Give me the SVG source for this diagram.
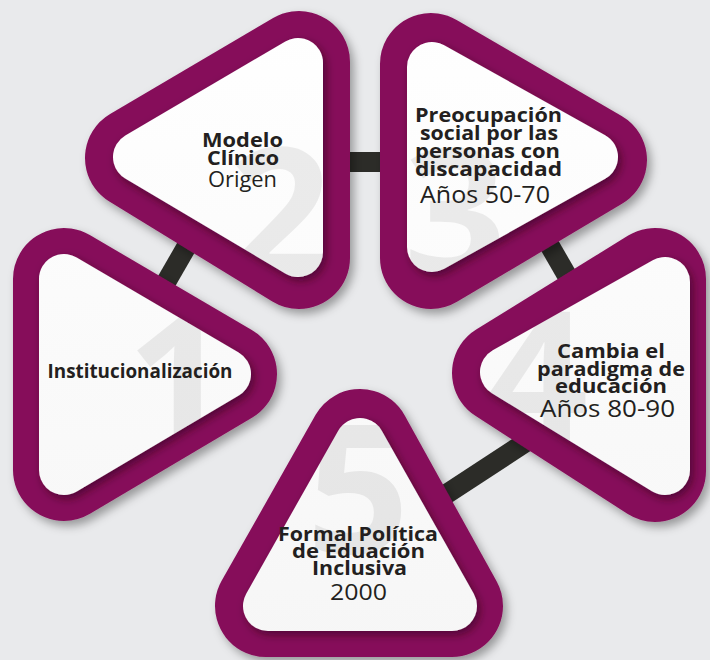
<svg xmlns="http://www.w3.org/2000/svg" xmlns:xlink="http://www.w3.org/1999/xlink" width="710" height="660" viewBox="0 0 710 660">
  <style>
    .outer { fill: #86105a; stroke: #86105a; stroke-width: 102; stroke-linejoin: round; }
    .inner { fill: url(#wg); stroke: url(#wg); stroke-width: 50; stroke-linejoin: round; }
    .mk { fill: #fff; stroke: #fff; stroke-width: 50; stroke-linejoin: round; }
    .num { font-family: "Open Sans", "DejaVu Sans", sans-serif; font-weight: 700; font-size: 180px; fill: #000; fill-opacity: 0.07; text-anchor: middle; }
    .b { font-family: "Open Sans", "Liberation Sans", sans-serif; font-weight: 700; font-size: 19.5px; fill: #231f20; text-anchor: middle; }
    .r { font-family: "Open Sans", "Liberation Sans", sans-serif; font-weight: 400; font-size: 24px; fill: #231f20; text-anchor: middle; }
    .bar { stroke: #2c2c28; stroke-width: 20; fill: none; }
  </style>
  <defs>
    <linearGradient id="wg" gradientUnits="userSpaceOnUse" x1="0" y1="0" x2="0" y2="660">
      <stop offset="0" stop-color="#ffffff"/>
      <stop offset="1" stop-color="#f6f6f6"/>
    </linearGradient>
    <filter id="so" filterUnits="userSpaceOnUse" x="0" y="0" width="710" height="660">
      <feDropShadow dx="4" dy="5" stdDeviation="5" flood-color="#000" flood-opacity="0.35"/>
    </filter>
    <filter id="si" filterUnits="userSpaceOnUse" x="0" y="0" width="710" height="660">
      <feDropShadow dx="3" dy="4" stdDeviation="4" flood-color="#2a0018" flood-opacity="0.55"/>
    </filter>
    <!-- outer cores -->
    <polygon id="o1" points="64,279 64,470 226,374"/>
    <polygon id="o2" points="299,62 299,258 136,158"/>
    <polygon id="o3" points="431,64 431,258 596,160"/>
    <polygon id="o4" points="655,279 655,471 503,373"/>
    <polygon id="o5" points="360,440 266,606 452,606"/>
    <!-- inner cores -->
    <polygon id="i1" points="64,279 64,470 226,374"/>
    <polygon id="i2" points="298,63 298,252 138,157"/>
    <polygon id="i3" points="432,67 432,247 593,157"/>
    <polygon id="i4" points="665,282 665,470 505,372"/>
    <polygon id="i5" points="360,443 268,606 452,606"/>
    <mask id="m1" maskUnits="userSpaceOnUse" x="0" y="0" width="710" height="660"><use xlink:href="#i1" class="mk"/></mask>
    <mask id="m2" maskUnits="userSpaceOnUse" x="0" y="0" width="710" height="660"><use xlink:href="#i2" class="mk"/></mask>
    <mask id="m3" maskUnits="userSpaceOnUse" x="0" y="0" width="710" height="660"><use xlink:href="#i3" class="mk"/></mask>
    <mask id="m4" maskUnits="userSpaceOnUse" x="0" y="0" width="710" height="660"><use xlink:href="#i4" class="mk"/></mask>
    <mask id="m5" maskUnits="userSpaceOnUse" x="0" y="0" width="710" height="660"><use xlink:href="#i5" class="mk"/></mask>
  </defs>

  <rect width="710" height="660" fill="#e9eaec"/>

  <g id="connectors">
    <line class="bar" x1="120" y1="362" x2="240" y2="154"/>
    <line class="bar" x1="250" y1="162" x2="480" y2="162"/>
    <line class="bar" x1="498" y1="156" x2="618" y2="364"/>
    <line class="bar" x1="361" y1="550" x2="613" y2="385"/>
  </g>

  <g id="node1">
    <use xlink:href="#o1" class="outer" filter="url(#so)"/>
    <use xlink:href="#i1" class="inner" filter="url(#si)"/>
    <text class="num" x="178" y="446" mask="url(#m1)">1</text>
    <text class="b" x="140" y="378" textLength="185" lengthAdjust="spacingAndGlyphs">Institucionalización</text>
  </g>

  <g id="node2">
    <use xlink:href="#o2" class="outer" filter="url(#so)"/>
    <use xlink:href="#i2" class="inner" filter="url(#si)"/>
    <text class="num" x="280" y="277" mask="url(#m2)">2</text>
    <text class="b" x="242.5" y="147" textLength="81" lengthAdjust="spacingAndGlyphs">Modelo</text>
    <text class="b" x="243" y="165" textLength="72" lengthAdjust="spacingAndGlyphs">Clínico</text>
    <text class="r" x="242.5" y="187" style="font-size:22px" textLength="69" lengthAdjust="spacingAndGlyphs">Origen</text>
  </g>

  <g id="node3">
    <use xlink:href="#o3" class="outer" filter="url(#so)"/>
    <use xlink:href="#i3" class="inner" filter="url(#si)"/>
    <text class="num" x="455" y="277" mask="url(#m3)">3</text>
    <text class="b" x="488.5" y="122" textLength="147" lengthAdjust="spacingAndGlyphs">Preocupación</text>
    <text class="b" x="489" y="140" textLength="138" lengthAdjust="spacingAndGlyphs">social por las</text>
    <text class="b" x="487.5" y="158" textLength="145" lengthAdjust="spacingAndGlyphs">personas con</text>
    <text class="b" x="488.5" y="176" textLength="147" lengthAdjust="spacingAndGlyphs">discapacidad</text>
    <text class="r" x="485" y="203" textLength="130" lengthAdjust="spacingAndGlyphs">Años 50-70</text>
  </g>

  <g id="node4">
    <use xlink:href="#o4" class="outer" filter="url(#so)"/>
    <use xlink:href="#i4" class="inner" filter="url(#si)"/>
    <text class="num" x="537" y="440" mask="url(#m4)">4</text>
    <text class="b" x="611" y="358" textLength="108" lengthAdjust="spacingAndGlyphs">Cambia el</text>
    <text class="b" x="611" y="376" textLength="148" lengthAdjust="spacingAndGlyphs">paradigma de</text>
    <text class="b" x="611" y="393" textLength="112" lengthAdjust="spacingAndGlyphs">educación</text>
    <text class="r" x="607.5" y="417" textLength="135" lengthAdjust="spacingAndGlyphs">Años 80-90</text>
  </g>

  <g id="node5">
    <use xlink:href="#o5" class="outer" filter="url(#so)"/>
    <use xlink:href="#i5" class="inner" filter="url(#si)"/>
    <text class="num" x="358" y="553" mask="url(#m5)">5</text>
    <text class="b" x="358" y="541" textLength="160" lengthAdjust="spacingAndGlyphs">Formal Política</text>
    <text class="b" x="358.5" y="558" textLength="133" lengthAdjust="spacingAndGlyphs">de Eduación</text>
    <text class="b" x="359.5" y="575" textLength="95" lengthAdjust="spacingAndGlyphs">Inclusiva</text>
    <text class="r" x="358.5" y="600" style="font-size:21px" textLength="57" lengthAdjust="spacingAndGlyphs">2000</text>
  </g>
</svg>
